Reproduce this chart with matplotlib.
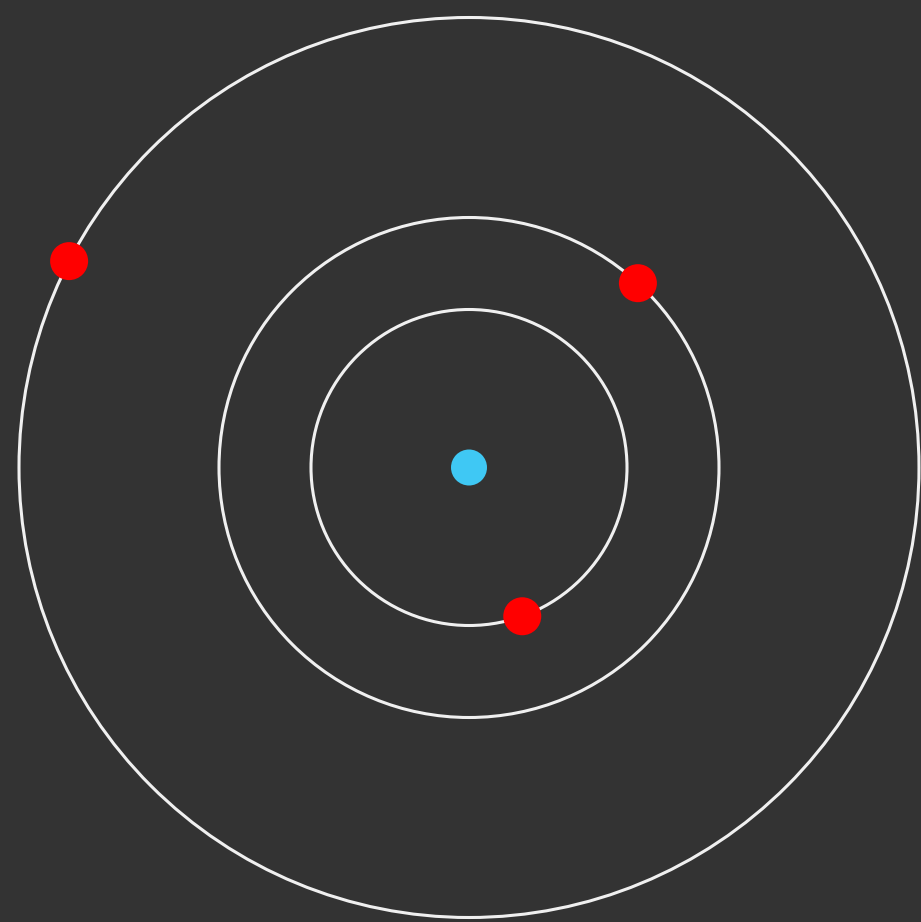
import numpy as np
import matplotlib
matplotlib.use("Agg")
import matplotlib.pyplot as plt
from matplotlib.patches import Circle

# Orbit data (radius in plot units, planet angle in degrees, counter-clockwise from +x)
orbit_radii = [158, 250, 450]
planet_angles = [-70.3, 47.5, 152.7]
sun_radius = 18
planet_radius = 19

W, H = 921, 922
cx, cy = 469, 467.5

fig = plt.figure(figsize=(W / 100, H / 100), dpi=100)
fig.patch.set_facecolor("#333333")
ax = fig.add_axes([0, 0, 1, 1])
ax.set_facecolor("#333333")
ax.set_xlim(0, W)
ax.set_ylim(H, 0)
ax.set_aspect("equal")
ax.axis("off")

for r in orbit_radii:
    ax.add_patch(Circle((cx, cy), r, fill=False, edgecolor="#f0f0f0", linewidth=2.2))

ax.add_patch(Circle((cx, cy), sun_radius, facecolor="#3fc8f4", edgecolor="none"))

for r, a in zip(orbit_radii, planet_angles):
    t = np.deg2rad(a)
    px = cx + r * np.cos(t)
    py = cy - r * np.sin(t)
    ax.add_patch(Circle((px, py), planet_radius, facecolor="#ff0000", edgecolor="none", zorder=3))

fig.savefig("out.png", dpi=100, facecolor=fig.get_facecolor())
